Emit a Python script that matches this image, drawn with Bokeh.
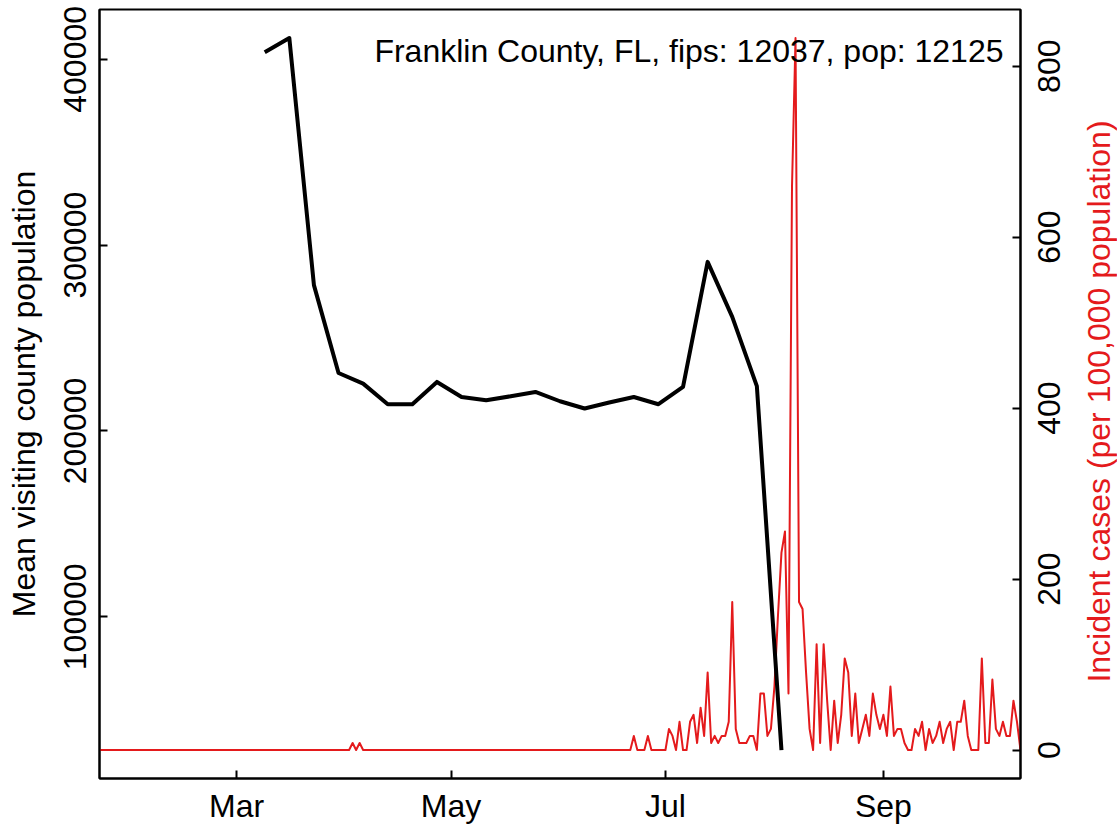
import math
import pandas as pd
from bokeh.plotting import figure
from bokeh.layouts import row
from bokeh.models import (Range1d, LinearAxis, FixedTicker, BasicTickFormatter,
                          DatetimeTickFormatter, Label)
from bokeh.embed import file_html
from bokeh.resources import INLINE

FONT = "Liberation Sans"
FS = "32px"
RED = "#E41A1C"

# ---------------- data ----------------
visit_dates = ["2020-03-09", "2020-03-16", "2020-03-23", "2020-03-30",
               "2020-04-06", "2020-04-13", "2020-04-20", "2020-04-27",
               "2020-05-04", "2020-05-11", "2020-05-18", "2020-05-25",
               "2020-06-01", "2020-06-08", "2020-06-15", "2020-06-22",
               "2020-06-29", "2020-07-06", "2020-07-13", "2020-07-20",
               "2020-07-27", "2020-08-03"]
visitors = [403800, 411500, 278500, 231200, 225500, 214400, 214400, 226400,
            218300, 216500, 218700, 221000, 216000, 212100, 215300, 218300,
            214400, 223700, 291000, 261400, 224100, 28300]

case_start = "2020-01-22"
# incident cases per 100,000 population, daily from 2020-01-22
incidence = [
    0, 0, 0, 0, 0, 0, 0, 0, 0, 0, 0, 0, 0, 0, 0, 0, 0, 0, 0, 0,
    0, 0, 0, 0, 0, 0, 0, 0, 0, 0, 0, 0, 0, 0, 0, 0, 0, 0, 0, 0,
    0, 0, 0, 0, 0, 0, 0, 0, 0, 0, 0, 0, 0, 0, 0, 0, 0, 0, 0, 0,
    0, 0, 0, 0, 0, 0, 0, 0, 0, 0, 0, 0, 8.2, 0, 8.2, 0, 0, 0, 0, 0,
    0, 0, 0, 0, 0, 0, 0, 0, 0, 0, 0, 0, 0, 0, 0, 0, 0, 0, 0, 0,
    0, 0, 0, 0, 0, 0, 0, 0, 0, 0, 0, 0, 0, 0, 0, 0, 0, 0, 0, 0,
    0, 0, 0, 0, 0, 0, 0, 0, 0, 0, 0, 0, 0, 0, 0, 0, 0, 0, 0, 0,
    0, 0, 0, 0, 0, 0, 0, 0, 0, 0, 0, 0, 16.5, 0, 0, 0, 16.5, 0, 0, 0,
    0, 0, 24.7, 16.5, 0, 33.0, 0, 0, 33.0, 41.2, 8.2, 49.5, 16.5, 90.7, 8.2, 16.5,
    8.2, 16.5, 16.5, 33.0, 173.2, 24.7, 8.2, 8.2, 8.2, 16.5, 16.5, 0, 66.0, 66.0,
    16.5, 24.7, 74.2, 156.7, 230.9, 255.7, 66.0, 659.8, 833.0, 173.2, 164.9, 90.7,
    24.7, 0, 123.7, 8.2, 123.7, 57.7, 0, 57.7, 8.2, 41.2, 107.2, 90.7, 16.5, 66.0,
    8.2, 24.7, 41.2, 16.5, 66.0, 41.2, 24.7, 41.2, 16.5, 74.2, 16.5, 24.7, 24.7, 8.2,
    0, 0, 24.7, 16.5, 33.0, 0, 24.7, 8.2, 16.5, 33.0, 8.2, 24.7, 33.0, 0,
    33.0, 33.0, 57.7, 16.5, 0, 0, 0, 107.2, 8.2, 8.2, 82.5, 24.7, 16.5, 33.0,
    16.5, 16.5, 57.7, 33.0, 0,
]

month_ticks = ["2020-03-01", "2020-05-01", "2020-07-01", "2020-09-01"]
month_labels = ["Mar", "May", "Jul", "Sep"]
left_ticks = [100000, 200000, 300000, 400000]
right_ticks = [0, 200, 400, 600, 800]
title_text = "Franklin County, FL, fips: 12037, pop: 12125"
left_title = "Mean visiting county population"
right_title = "Incident cases (per 100,000 population)"


def ms(d):
    return pd.Timestamp(d).value / 1e6


case_x = [ms(d) for d in pd.date_range(case_start, periods=len(incidence), freq="D")]
visit_x = [ms(d) for d in visit_dates]
tick_x = [ms(d) for d in month_ticks]

# R-style 4% range extension
vmin, vmax = min(visitors), max(visitors)
vpad = 0.04 * (vmax - vmin)
ylo, yhi = vmin - vpad, vmax + vpad
cmin, cmax = min(incidence), max(incidence)
cpad = 0.04 * (cmax - cmin)
clo, chi = cmin - cpad, cmax + cpad

FW, FH = 921, 769
TOP, BOTTOM = 9, 47
LEFT, RIGHT = 99, 2
SIDE_W = 1117 - (LEFT + FW + RIGHT)

p = figure(frame_width=FW, frame_height=FH,
           x_range=Range1d(case_x[0], case_x[-1]),
           y_range=Range1d(ylo, yhi),
           x_axis_type=None, y_axis_type=None,
           output_backend="svg", toolbar_location=None,
           min_border_left=LEFT, min_border_right=RIGHT,
           min_border_top=TOP, min_border_bottom=BOTTOM)
p.extra_y_ranges = {"cases": Range1d(clo, chi)}
p.xgrid.visible = False
p.ygrid.visible = False
p.background_fill_color = "white"
p.border_fill_color = "white"
p.outline_line_color = "black"
p.outline_line_width = 2


def style(ax):
    ax.axis_line_width = 2
    ax.axis_line_color = "black"
    ax.major_tick_line_width = 2
    ax.major_tick_in = 8
    ax.major_tick_out = 0
    ax.minor_tick_line_color = None
    ax.major_label_text_font = FONT
    ax.major_label_text_font_size = FS
    ax.major_label_text_color = "black"
    ax.axis_label_text_font = FONT
    ax.axis_label_text_font_size = FS
    ax.axis_label_text_font_style = "normal"
    ax.axis_label_text_color = "black"


xaxis = LinearAxis(ticker=FixedTicker(ticks=tick_x),
                   formatter=DatetimeTickFormatter(
                       microseconds="%b", milliseconds="%b", seconds="%b",
                       minsec="%b", minutes="%b", hourmin="%b", hours="%b",
                       days="%b", months="%b", years="%b"))
xaxis.major_label_overrides = {t: lab for t, lab in zip(tick_x, month_labels)}
style(xaxis)
xaxis.major_label_standoff = 9
p.add_layout(xaxis, "below")

yaxis = LinearAxis(ticker=FixedTicker(ticks=left_ticks),
                   formatter=BasicTickFormatter(use_scientific=False),
                   axis_label=left_title)
style(yaxis)
yaxis.major_label_orientation = "vertical"
yaxis.major_label_standoff = 13
yaxis.axis_label_standoff = 20
p.add_layout(yaxis, "left")

# right axis: line + inward ticks here; its labels are drawn in the side panel
raxis = LinearAxis(y_range_name="cases", ticker=FixedTicker(ticks=right_ticks),
                   formatter=BasicTickFormatter(use_scientific=False))
style(raxis)
raxis.major_label_text_font_size = "0px"
raxis.major_label_text_color = None
raxis.major_label_standoff = 0
p.add_layout(raxis, "right")

p.line(case_x, incidence, y_range_name="cases", line_color=RED, line_width=2,
       line_join="round")
p.line(visit_x, visitors, line_color="black", line_width=4, line_join="round")

# county title (top right inside frame)
y_title = yhi - (50 - TOP) / FH * (yhi - ylo)
p.add_layout(Label(x=case_x[-1], y=y_title, x_offset=-17, text=title_text,
                   text_align="right", text_baseline="alphabetic",
                   text_font=FONT, text_font_size=FS, text_color="black"))

# side panel carrying the right-axis texts (read bottom to top)
side = figure(frame_width=SIDE_W, frame_height=FH,
              x_range=Range1d(0, SIDE_W), y_range=Range1d(clo, chi),
              x_axis_type=None, y_axis_type=None,
              output_backend="svg", toolbar_location=None,
              min_border_left=0, min_border_right=0,
              min_border_top=TOP, min_border_bottom=BOTTOM)
side.xgrid.visible = False
side.ygrid.visible = False
side.outline_line_color = None
side.background_fill_color = "white"
side.border_fill_color = "white"

ax_x = LEFT + FW + RIGHT  # canvas x where the side panel starts
for t in right_ticks:
    side.add_layout(Label(x=1048 - ax_x, y=t, angle=math.pi / 2, angle_units="rad",
                          text=str(t), text_align="center",
                          text_baseline="alphabetic", text_font=FONT,
                          text_font_size=FS, text_color="black"))

y_rt = chi - (401 - TOP) / FH * (chi - clo)
side.add_layout(Label(x=1098 - ax_x, y=y_rt, angle=math.pi / 2, angle_units="rad",
                      text=right_title, text_align="center",
                      text_baseline="alphabetic", text_font=FONT,
                      text_font_size=FS, text_color=RED))

layout = row(p, side, spacing=0)
open("out.html", "w").write(file_html(layout, INLINE))
